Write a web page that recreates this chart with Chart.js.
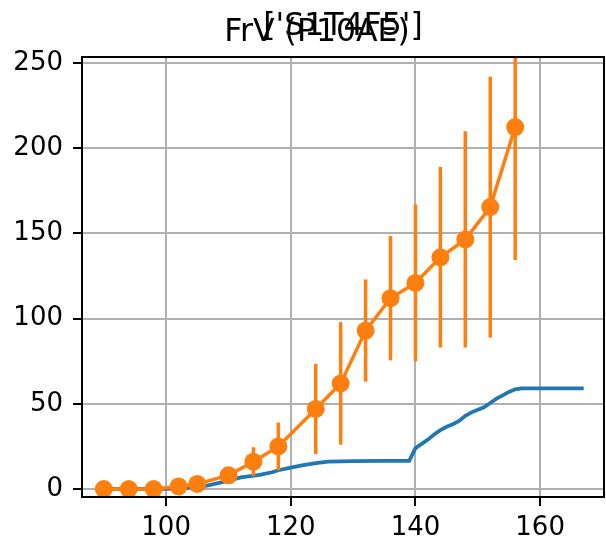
<!DOCTYPE html>
<html>
<head>
<meta charset="utf-8">
<script src="https://cdn.jsdelivr.net/npm/chart.js@4.4.0/dist/chart.umd.min.js"></script>
<style>
html, body { margin: 0; padding: 0; background: #fff; }
</style>
</head>
<body>
<canvas id="chart" width="606" height="541"></canvas>
<script>
const orangeX = [90, 94, 98, 102, 105, 110, 114, 118, 124, 128, 132, 136, 140, 144, 148, 152, 156];
const orangeY = [0, 0, 0, 1.5, 3, 8, 16, 25, 47, 62, 93, 112, 121, 136, 146.5, 165.5, 212.5];
const orangeErr = [0, 0, 0, 0.5, 1, 2, 8.5, 14, 26.5, 36, 30, 36.5, 46, 53, 63.5, 76.5, 78];

const blueX = [90, 100, 103, 106, 109, 112, 115, 117, 118, 120, 122, 124, 126, 130, 135, 139, 140, 141, 142, 143, 144, 145, 146, 147, 148, 149, 150, 151, 152, 153, 154, 155, 156, 157, 167];
const blueY = [0, 0, 0.5, 1.5, 4, 6.8, 8.3, 9.8, 11, 12.5, 14, 15.2, 16, 16.3, 16.5, 16.5, 24, 26.5, 29, 32, 34.5, 36.5, 38, 40, 43, 45, 46.5, 48, 50.5, 53, 55, 57, 58.5, 59, 59];

const xTicks = [100, 120, 140, 160];
const yTicks = [0, 50, 100, 150, 200, 250];
const axesTitle = "['S1T4F5']";
const figTitle = 'FrV (P10AE)';

const tickFont = { family: 'DejaVu Sans', size: 26 };

// vertical error bars for the orange series
const errorBars = {
	id: 'errorBars',
	beforeDatasetDraw(chart, args) {
		if (args.index !== 0) return;
		const { ctx, chartArea, scales: { x, y } } = chart;
		ctx.save();
		ctx.beginPath();
		ctx.rect(chartArea.left, chartArea.top, chartArea.width, chartArea.height);
		ctx.clip();
		ctx.strokeStyle = '#ff7f0e';
		ctx.lineWidth = 3.5;
		orangeX.forEach((v, i) => {
			const e = orangeErr[i];
			if (!e) return;
			const px = x.getPixelForValue(v);
			ctx.beginPath();
			ctx.moveTo(px, y.getPixelForValue(orangeY[i] - e));
			ctx.lineTo(px, y.getPixelForValue(orangeY[i] + e));
			ctx.stroke();
		});
		ctx.restore();
	}
};

// spines + the two overlapping titles
const frame = {
	id: 'frame',
	afterDraw(chart) {
		const { ctx, chartArea: a } = chart;
		ctx.save();
		ctx.strokeStyle = '#000';
		ctx.lineWidth = 2;
		ctx.strokeRect(a.left, a.top, a.right - a.left, a.bottom - a.top);
		ctx.fillStyle = '#000';
		ctx.font = '31.5px "DejaVu Sans"';
		ctx.textAlign = 'center';
		ctx.textBaseline = 'alphabetic';
		ctx.fillText(figTitle, 317, 41);
		ctx.fillText(axesTitle, (a.left + a.right) / 2, 35);
		ctx.restore();
	}
};

new Chart(document.querySelector('#chart'), {
	type: 'line',
	data: {
		datasets: [
			{
				data: orangeX.map((v, i) => ({ x: v, y: orangeY[i] })),
				borderColor: '#ff7f0e',
				backgroundColor: '#ff7f0e',
				borderWidth: 3.5,
				pointRadius: 9,
				pointBorderWidth: 0,
				tension: 0
			},
			{
				data: blueX.map((v, i) => ({ x: v, y: blueY[i] })),
				borderColor: '#1f77b4',
				borderWidth: 3.75,
				pointRadius: 0,
				tension: 0
			}
		]
	},
	options: {
		responsive: false,
		animation: false,
		layout: { autoPadding: false, padding: { left: 0, right: 2, top: 57, bottom: 0 } },
		plugins: {
			legend: { display: false },
			tooltip: { enabled: false }
		},
		scales: {
			x: {
				type: 'linear',
				min: 86.5,
				max: 170.25,
				afterBuildTicks: s => { s.ticks = xTicks.map(v => ({ value: v })); },
				afterFit: s => { s.height = 44; s.paddingLeft = 0; s.paddingRight = 0; },
				grid: { color: '#b0b0b0', lineWidth: 2, tickColor: '#000', tickWidth: 2, tickLength: 9 },
				border: { display: false },
				ticks: { font: tickFont, color: '#000', padding: 7, maxRotation: 0 }
			},
			y: {
				type: 'linear',
				min: -4.7,
				max: 253.6,
				afterBuildTicks: s => { s.ticks = yTicks.map(v => ({ value: v })); },
				afterFit: s => { s.width = 82; s.paddingTop = 0; s.paddingBottom = 0; },
				grid: { color: '#b0b0b0', lineWidth: 2, tickColor: '#000', tickWidth: 2, tickLength: 9 },
				border: { display: false },
				ticks: { font: tickFont, color: '#000', padding: 10 }
			}
		}
	},
	plugins: [errorBars, frame]
});
</script>
</body>
</html>
